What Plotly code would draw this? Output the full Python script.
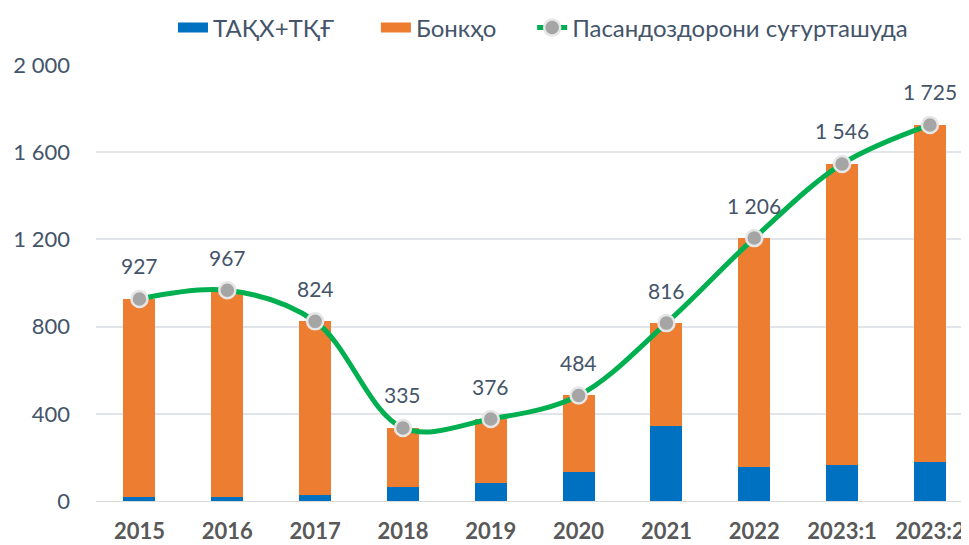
import plotly.graph_objects as go

categories = ["2015", "2016", "2017", "2018", "2019", "2020", "2021", "2022", "2023:1", "2023:2"]
totals = [927, 967, 824, 335, 376, 484, 816, 1206, 1546, 1725]
takh_tkg = [17, 17, 28, 66, 81, 135, 344, 156, 167, 177]
banks = [t - b for t, b in zip(totals, takh_tkg)]

FONT = "Lato, Noto Sans, sans-serif"
BLUE = "#0070C0"
ORANGE = "#ED7D31"
NB = "\u00a0"

fig = go.Figure()
fig.add_trace(go.Bar(
    x=categories, y=takh_tkg, name="ТАҚХ+ТҚҒ", showlegend=False,
    marker=dict(color=BLUE, line=dict(width=0)),
))
fig.add_trace(go.Bar(
    x=categories, y=banks, name="Бонкҳо", showlegend=False,
    marker=dict(color=ORANGE, line=dict(width=0)),
))
# legend entries drawn as wide rectangles (like the reference)
fig.add_trace(go.Scatter(x=[None], y=[None], mode="lines", name="ТАҚХ+ТҚҒ" + NB * 6,
                         line=dict(color=BLUE, width=17)))
fig.add_trace(go.Scatter(x=[None], y=[None], mode="lines", name="Бонкҳо" + NB * 5,
                         line=dict(color=ORANGE, width=17)))
fig.add_trace(go.Scatter(
    x=categories, y=totals, name="Пасандоздорони суғурташуда",
    mode="lines+markers",
    line=dict(color="#00B050", width=5, shape="spline", smoothing=1.0),
    marker=dict(color="#A5A5A5", size=16, line=dict(color="#E7E6E6", width=2.5)),
))

for i, t in enumerate(totals):
    fig.add_annotation(
        x=i, y=t, xref="x", yref="y", text=f"{t:,}".replace(",", " "), showarrow=False,
        yshift=33, font=dict(family=FONT, size=21, color="#44546A"),
    )

fig.update_layout(
    width=961, height=537,
    barmode="stack", bargap=0.636,
    separators=". ",
    plot_bgcolor="white", paper_bgcolor="white",
    margin=dict(l=88, r=0, t=57, b=44, autoexpand=False),
    font=dict(family=FONT, size=19, color="#44546A"),
    legend=dict(orientation="h", x=0.512, xanchor="center", y=1.0 - 20 / 537, yref="container",
                yanchor="middle",
                font=dict(size=24, color="#44546A"), traceorder="normal"),
    xaxis=dict(
        type="category", categoryorder="array", categoryarray=categories,
        range=[-0.495, 9.445],
        showgrid=False, showline=True, linecolor="#D9D9D9", linewidth=1,
        tickfont=dict(family=FONT, size=22, color="#595959", weight="bold"),
        ticks="", ticklabelstandoff=11, ticklabeloverflow="allow",
    ),
    yaxis=dict(
        range=[0, 2000], tickvals=[0, 400, 800, 1200, 1600, 2000], tickformat=",d",
        showgrid=True, gridcolor="#E1E4E8", gridwidth=1.5, zeroline=False,
        tickfont=dict(family=FONT, size=22, color="#44546A"),
        ticks="", ticklabelstandoff=25,
    ),
)

fig.write_html(
    "out.html",
    post_script="document.documentElement.style.overflow='hidden';document.body.style.overflow='hidden';",
)
